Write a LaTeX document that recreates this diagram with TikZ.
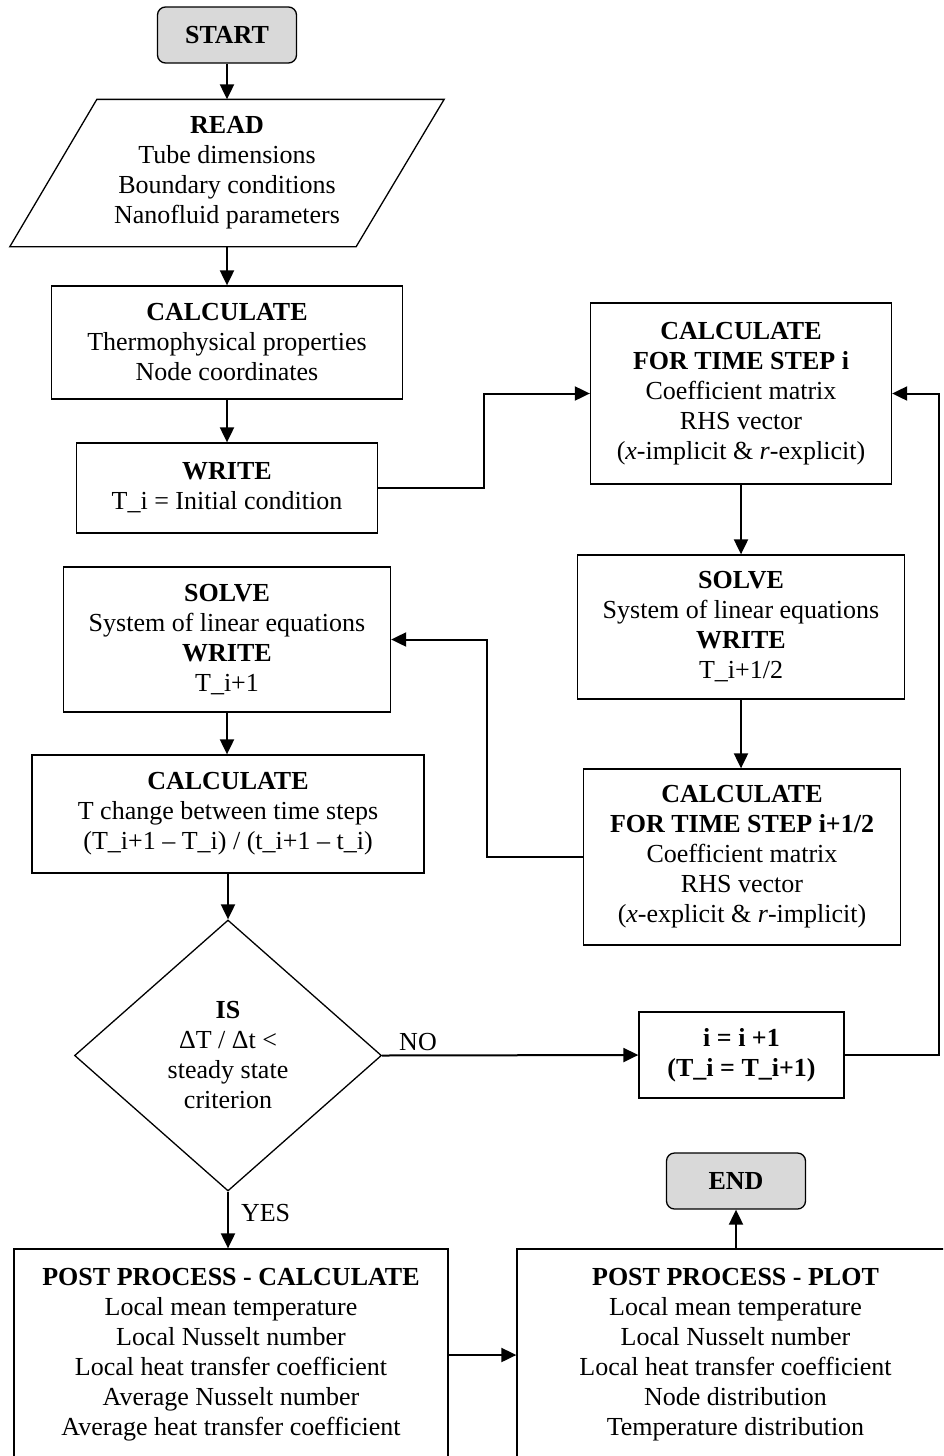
\documentclass[tikz,border=0pt]{standalone}
\usepackage{fontspec}
\setmainfont{Liberation Serif}
\usetikzlibrary{arrows.meta,shapes.geometric}
\definecolor{termgray}{RGB}{217,217,217}
\tikzset{box/.style = {draw, line width=1.3pt, inner sep=0pt, align=center, font=\fontsize{26}{30}\selectfont}}
\tikzset{term/.style = {box, rounded corners=8pt, fill=termgray}}
\tikzset{decision/.style = {box, diamond, aspect=1.13}}
\tikzset{flow/.style = {-{Triangle[length=15pt, width=14pt]}, line width=2pt}}
\tikzset{lbl/.style = {font=\fontsize{26}{30}\selectfont, inner sep=4pt}}

\begin{document}
\begin{tikzpicture}[x=1pt, y=-1pt]
\clip (0,0) rectangle (943,1456);
\node[term, minimum width=139, minimum height=56] (start) at (227,35) {\textbf{START}};
\node[box, draw=none, minimum width=433, minimum height=146] (read) at (227,173) {\textbf{READ}\\Tube dimensions\\Boundary conditions\\Nanofluid parameters};
\draw[line width=1.3pt] ([xshift=87pt]read.north west) -- (read.north east) -- ([xshift=-88pt]read.south east) -- (read.south west) -- cycle;
\node[box, minimum width=351, minimum height=113] (calc) at (227,342.5) {\textbf{CALCULATE}\\Thermophysical properties\\Node coordinates};
\node[box, minimum width=301, minimum height=90] (write) at (227,488) {\textbf{WRITE}\\T\_i = Initial condition};
\node[box, minimum width=327, minimum height=145] (solvel) at (227,639.5) {\textbf{SOLVE}\\System of linear equations\\\textbf{WRITE}\\T\_i+1};
\node[box, minimum width=392, minimum height=118] (change) at (228,814) {\textbf{CALCULATE}\\T change between time steps\\(T\_i+1 – T\_i) / (t\_i+1 – t\_i)};
\node[decision, minimum width=307, minimum height=271] (steady) at (228,1055.5) {\textbf{IS}\\ΔT / Δt <\\steady state\\criterion};
\node[box, minimum width=434, minimum height=212] (postcalc) at (231,1355) {\textbf{POST PROCESS - CALCULATE}\\Local mean temperature\\Local Nusselt number\\Local heat transfer coefficient\\Average Nusselt number\\Average heat transfer coefficient};
\node[box, minimum width=301, minimum height=181] (stepi) at (741,393.5) {\textbf{CALCULATE}\\\textbf{FOR TIME STEP i}\\Coefficient matrix\\RHS vector\\(\textit{x}-implicit \& \textit{r}-explicit)};
\node[box, minimum width=327, minimum height=144] (solver) at (741,627) {\textbf{SOLVE}\\System of linear equations\\\textbf{WRITE}\\T\_i+1/2};
\node[box, minimum width=317, minimum height=176] (stephalf) at (742,857) {\textbf{CALCULATE}\\\textbf{FOR TIME STEP i+1/2}\\Coefficient matrix\\RHS vector\\(\textit{x}-explicit \& \textit{r}-implicit)};
\node[box, minimum width=205, minimum height=86] (incr) at (741.5,1055) {\textbf{i = i +1}\\\textbf{(T\_i = T\_i+1)}};
\node[box, minimum width=437, minimum height=212] (postplot) at (735.5,1355) {\textbf{POST PROCESS - PLOT}\\Local mean temperature\\Local Nusselt number\\Local heat transfer coefficient\\Node distribution\\Temperature distribution};
\node[term, minimum width=139, minimum height=56] (end) at (736,1181) {\textbf{END}};
\draw[flow] (start.south) -- (read.north);
\draw[flow] (read.south) -- (calc.north);
\draw[flow] (calc.south) -- (write.north);
\draw[flow] (write.east) -- ++(106,0) |- (stepi.west);
\draw[flow] (stepi.south) -- (solver.north);
\draw[flow] (solver.south) -- (solver.south |- stephalf.north);
\draw[flow] (stephalf.west) -- ++(-96,0) |- (solvel.east);
\draw[flow] (solvel.south) -- (solvel.south |- change.north);
\draw[flow] (change.south) -- (steady.north);
\draw[flow] (steady.east) -- node[lbl, pos=0.14, above] {NO} (incr.west);
\draw[flow] (incr.east) -- ++(94,0) |- (stepi.east);
\draw[flow] (steady.south) -- node[lbl, pos=0.37, right, xshift=8pt] {YES} (steady.south |- postcalc.north);
\draw[flow] (postcalc.east) -- (postplot.west);
\draw[flow] (end.south |- postplot.north) -- (end.south);
\end{tikzpicture}
\end{document}
